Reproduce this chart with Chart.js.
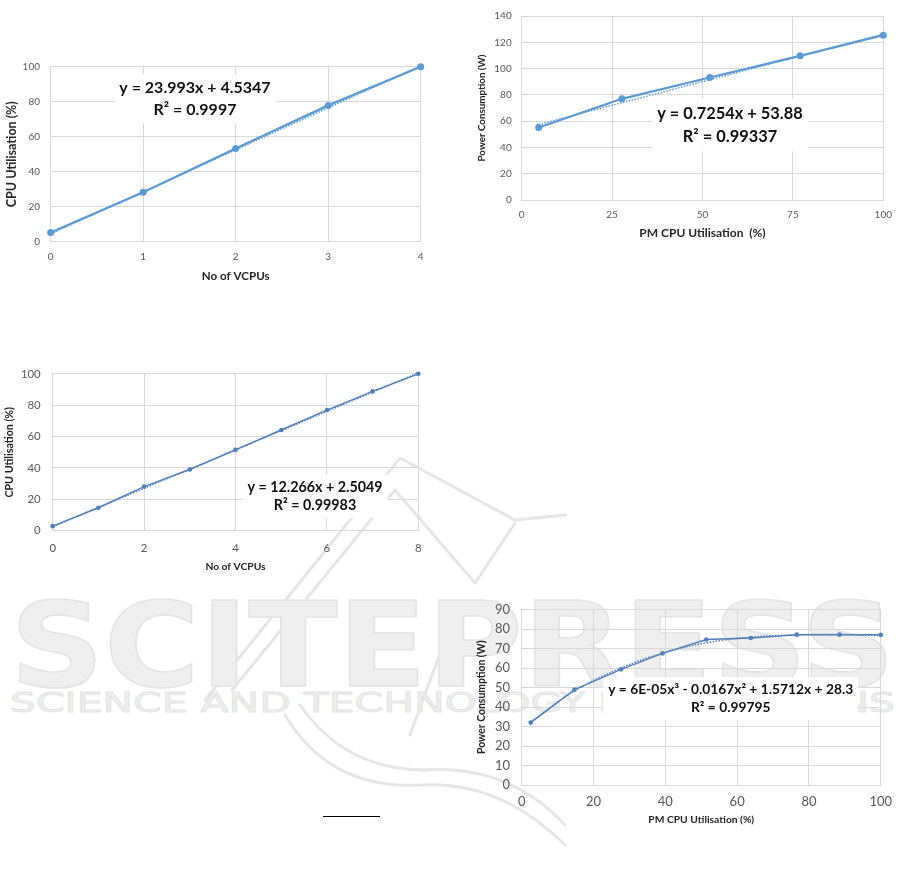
<!DOCTYPE html>
<html>
<head>
<meta charset="utf-8">
<script src="https://cdn.jsdelivr.net/npm/chart.js@4.4.1/dist/chart.umd.min.js"></script>
<style>
  html, body { margin: 0; padding: 0; background: #fff; }
  body { width: 901px; height: 886px; position: relative; overflow: hidden; }
  canvas { position: absolute; z-index: 1; }
  #mark { position: absolute; left: 0; top: 0; z-index: 0; }
  #rule { position: absolute; left: 323px; top: 816px; width: 57px; height: 1px; background: #000; }
</style>
</head>
<body>
<svg id="mark" width="901" height="886">
  <g fill="none" stroke="#e6e6e6" stroke-width="3" stroke-linecap="round" stroke-linejoin="round">
    <path d="M205 700 L400 458 L515 520 L565 515" />
    <path d="M232 690 L395 490 L475 583 L515 523" />
    <path d="M285 715 Q330 790 420 785 Q500 780 565 845" />
    <path d="M300 705 Q345 770 425 770 Q510 765 565 825" />
    <path d="M445 640 L410 735" />
  </g>
  <text x="10" y="686" font-family="DejaVu Sans" font-weight="bold" font-size="118" textLength="885" lengthAdjust="spacingAndGlyphs" fill="#efefef" stroke="#e4e4e4" stroke-width="1.5">SCITEPRESS</text>
  <text x="10" y="712" font-family="DejaVu Sans" font-size="27" textLength="885" lengthAdjust="spacingAndGlyphs" fill="#eeeeee" stroke="#e4e4e4" stroke-width="0.8">SCIENCE AND TECHNOLOGY PUBLICATIONS</text>
</svg>
<div id="rule"></div>
<canvas id="c1"></canvas>
<canvas id="c2"></canvas>
<canvas id="c3"></canvas>
<canvas id="c4"></canvas>
<script>
// chart 1: CPU utilisation vs VCPUs (4)
const vcpus4 = [0, 1, 2, 3, 4];
const cpuUtil4 = [5.3, 28.3, 53.2, 77.9, 100];
const trendX4 = [0, 4];
const trendY4 = [4.5, 100.5];

// chart 2: power vs PM CPU utilisation
const pmUtil1 = [4.7, 27.7, 52, 77, 100];
const power1 = [55.2, 77, 93.2, 109.7, 125.4];
const trendPmX1 = [4.7, 100];
const trendPmY1 = [57.4, 126.2];

// chart 3: CPU utilisation vs VCPUs (8)
const vcpus8 = [0, 1, 2, 3, 4, 5, 6, 7, 8];
const cpuUtil8 = [2.9, 14.6, 28.1, 39, 51.5, 64.2, 76.9, 88.8, 100];
const trendX8 = [0, 8];
const trendY8 = [2.5, 100.6];

// chart 4: power vs PM CPU utilisation (second machine)
const pmUtil2 = [2.5, 14.7, 27.7, 39.2, 51.4, 63.8, 76.6, 88.5, 100];
const power2 = [32, 48.9, 59.3, 67.5, 74.6, 75.4, 77.1, 77.1, 77];
const trendPmY2 = [32.3, 48.2, 60.0, 67.6, 72.9, 75.8, 77.0, 77.2, 76.6];

const GRID = "#d9d9d9";
const TICK = "#595959";
const FONT = "Lato";

const pts = (xs, ys) => xs.map((x, i) => ({ x: x, y: ys[i] }));

// equation + R² box, white background over the grid, text over the lines
const eqLabel = {
  id: "eqLabel",
  beforeDatasetsDraw(chart, args, opts) {
    const { ctx, scales } = chart;
    const cx = scales.x.getPixelForValue(opts.x);
    const cy = scales.y.getPixelForValue(opts.y);
    ctx.save();
    ctx.font = `bold ${opts.size}px ${FONT}`;
    const w = Math.max(...opts.lines.map((l) => ctx.measureText(l).width));
    const h = opts.lines.length * opts.lineHeight;
    ctx.fillStyle = "#fff";
    ctx.fillRect(cx - w / 2 - 5, cy - h / 2 - 3, w + 10, h + 6);
    ctx.restore();
  },
  afterDatasetsDraw(chart, args, opts) {
    const { ctx, scales } = chart;
    const cx = scales.x.getPixelForValue(opts.x);
    const cy = scales.y.getPixelForValue(opts.y);
    const h = opts.lines.length * opts.lineHeight;
    ctx.save();
    ctx.font = `bold ${opts.size}px ${FONT}`;
    ctx.fillStyle = "#111";
    ctx.textAlign = "center";
    ctx.textBaseline = "middle";
    opts.lines.forEach((l, i) => {
      ctx.fillText(l, cx, cy - h / 2 + opts.lineHeight * (i + 0.5));
    });
    ctx.restore();
  },
};

function makeChart(id, c) {
  const el = document.getElementById(id);
  el.width = c.box[2];
  el.height = c.box[3];
  el.style.left = c.box[0] + "px";
  el.style.top = c.box[1] + "px";
  el.style.width = c.box[2] + "px";
  el.style.height = c.box[3] + "px";

  return new Chart(el, {
    type: "scatter",
    data: {
      datasets: [
        {
          data: c.trend,
          showLine: true,
          borderColor: c.color,
          borderWidth: 1.5,
          borderDash: [1.5, 1.5],
          pointRadius: 0,
          tension: c.trendTension || 0,
          clip: false,
          order: 2,
        },
        {
          data: c.series,
          showLine: true,
          borderColor: c.color,
          backgroundColor: c.color,
          borderWidth: c.lineWidth,
          pointRadius: c.pointRadius,
          pointBorderWidth: 0,
          clip: false,
          order: 1,
        },
      ],
    },
    options: {
      responsive: false,
      animation: false,
      layout: { padding: { top: c.pad.top, right: c.pad.right, left: 0, bottom: 0 } },
      plugins: {
        legend: { display: false },
        tooltip: { enabled: false },
        eqLabel: c.label,
      },
      scales: {
        x: {
          type: "linear",
          min: c.xr[0],
          max: c.xr[1],
          ticks: {
            stepSize: c.xr[2],
            color: TICK,
            padding: c.xTick.pad,
            font: { family: FONT, size: c.xTick.size },
            maxRotation: 0,
          },
          grid: { color: GRID, drawTicks: false },
          border: { color: GRID },
          title: {
            display: true,
            text: c.xTitle.text,
            color: "#262626",
            font: { family: FONT, size: c.xTitle.size, weight: "bold" },
            padding: { top: 0, bottom: c.xTitle.pad },
          },
          afterFit: (s) => { s.height = c.xH; },
        },
        y: {
          min: c.yr[0],
          max: c.yr[1],
          ticks: {
            stepSize: c.yr[2],
            color: TICK,
            padding: c.yTick.pad,
            font: { family: FONT, size: c.yTick.size },
          },
          grid: { color: GRID, drawTicks: false },
          border: { color: GRID },
          title: {
            display: true,
            text: c.yTitle.text,
            color: "#262626",
            font: { family: FONT, size: c.yTitle.size, weight: "bold" },
            padding: { top: c.yTitle.pad, bottom: 0 },
          },
          afterFit: (s) => { s.width = c.yW; },
        },
      },
    },
    plugins: [eqLabel],
  });
}

makeChart("c1", {
  box: [0, 50, 440, 235],
  pad: { top: 15, right: 19.3 },
  yW: 50.7,
  xH: 43.3,
  xr: [0, 4, 1],
  yr: [0, 100, 20],
  color: "#5b9bd5",
  lineWidth: 2.25,
  pointRadius: 3.5,
  series: pts(vcpus4, cpuUtil4),
  trend: pts(trendX4, trendY4),
  xTick: { size: 10, pad: 9 },
  yTick: { size: 10, pad: 10.7 },
  xTitle: { text: "No of VCPUs", size: 11.6, pad: 2 },
  yTitle: { text: "CPU Utilisation (%)", size: 12.5, pad: 4.5 },
  label: { x: 1.56, y: 81.6, size: 16, lineHeight: 21.7, lines: ["y = 23.993x + 4.5347", "R² = 0.9997"] },
});

makeChart("c2", {
  box: [470, 0, 431, 242],
  pad: { top: 7.3, right: 14.3 },
  yW: 51.7,
  xH: 42,
  xr: [0, 100, 25],
  yr: [0, 140, 20],
  color: "#5b9bd5",
  lineWidth: 2.25,
  pointRadius: 3.5,
  series: pts(pmUtil1, power1),
  trend: pts(trendPmX1, trendPmY1),
  xTick: { size: 10, pad: 9 },
  yTick: { size: 10, pad: 10 },
  xTitle: { text: "PM CPU Utilisation  (%)", size: 12, pad: 1.8 },
  yTitle: { text: "Power Consumption (W)", size: 9.8, pad: 6.4 },
  label: { x: 57.6, y: 56.9, size: 16.4, lineHeight: 23, lines: ["y = 0.7254x + 53.88", "R² = 0.99337"] },
});

makeChart("c3", {
  box: [0, 355, 440, 220],
  pad: { top: 15.7, right: 21.7 },
  yW: 52.7,
  xH: 44.3,
  xr: [0, 8, 2],
  yr: [0, 100, 20],
  color: "#4f81bd",
  lineWidth: 1.5,
  pointRadius: 2.3,
  series: pts(vcpus8, cpuUtil8),
  trend: pts(trendX8, trendY8),
  xTick: { size: 11.4, pad: 10.5 },
  yTick: { size: 11.4, pad: 12 },
  xTitle: { text: "No of VCPUs", size: 10.3, pad: 1.8 },
  yTitle: { text: "CPU Utilisation (%)", size: 10.7, pad: 3.6 },
  label: { x: 5.74, y: 21.8, size: 14.3, lineHeight: 18.3, lines: ["y = 12.266x + 2.5049", "R² = 0.99983"] },
});

makeChart("c4", {
  box: [470, 590, 431, 238],
  pad: { top: 14, right: 16 },
  yW: 51.7,
  xH: 43,
  xr: [0, 100, 20],
  yr: [0, 90, 10],
  color: "#4f81bd",
  lineWidth: 1.5,
  pointRadius: 2.3,
  series: pts(pmUtil2, power2),
  trend: pts(pmUtil2, trendPmY2),
  trendTension: 0.4,
  xTick: { size: 13, pad: 8.9 },
  yTick: { size: 13, pad: 11.7 },
  xTitle: { text: "PM CPU Utilisation (%)", size: 10.3, pad: 1.8 },
  yTitle: { text: "Power Consumption (W)", size: 10.4, pad: 5.5 },
  label: { x: 58.2, y: 44.4, size: 13.8, lineHeight: 18.3, lines: ["y = 6E-05x³ - 0.0167x² + 1.5712x + 28.3", "R² = 0.99795"] },
});
</script>
</body>
</html>
